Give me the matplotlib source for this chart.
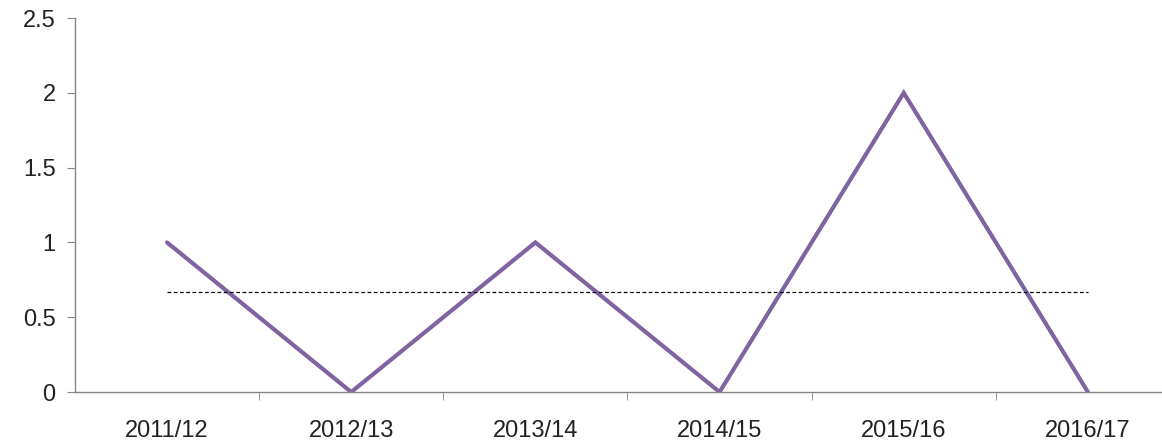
import matplotlib
matplotlib.use("Agg")
import matplotlib.pyplot as plt

# data
seasons = ["2011/12", "2012/13", "2013/14", "2014/15", "2015/16", "2016/17"]
counts = [1, 0, 1, 0, 2, 0]
avg = sum(counts) / len(counts)

plt.rcParams['font.family'] = ['Liberation Sans', 'DejaVu Sans']

fig = plt.figure(figsize=(11.62, 4.4), dpi=100)
ax = fig.add_axes([0.0645, 0.109, 0.951, 0.85])

x = list(range(len(seasons)))
ax.plot(x, counts, color="#8064A2", linewidth=3.0, solid_capstyle="round", solid_joinstyle="miter")
ax.plot([x[0], x[-1]], [avg, avg], color="black", linewidth=0.9, linestyle=(0, (3, 2)))

ax.set_xlim(-0.5, len(seasons) - 0.5)
ax.set_ylim(0, 2.5)
ax.set_yticks([0, 0.5, 1, 1.5, 2, 2.5])
ax.set_yticklabels(["0", "0.5", "1", "1.5", "2", "2.5"])
ax.set_xticks(x)
ax.set_xticklabels(seasons)
ax.set_xticks([i + 0.5 for i in x[:-1]], minor=True)

for s in ["top", "right"]:
    ax.spines[s].set_visible(False)
for s in ["left", "bottom"]:
    ax.spines[s].set_color("#868686")
    ax.spines[s].set_linewidth(1.0)

ax.tick_params(axis="y", length=6, color="#868686", labelsize=17, labelcolor="#222222", pad=8)
ax.tick_params(axis="x", which="major", length=0, labelsize=17, labelcolor="#222222", pad=20)
ax.tick_params(axis="x", which="minor", length=6, color="#868686")

fig.savefig("out.png", dpi=100)
